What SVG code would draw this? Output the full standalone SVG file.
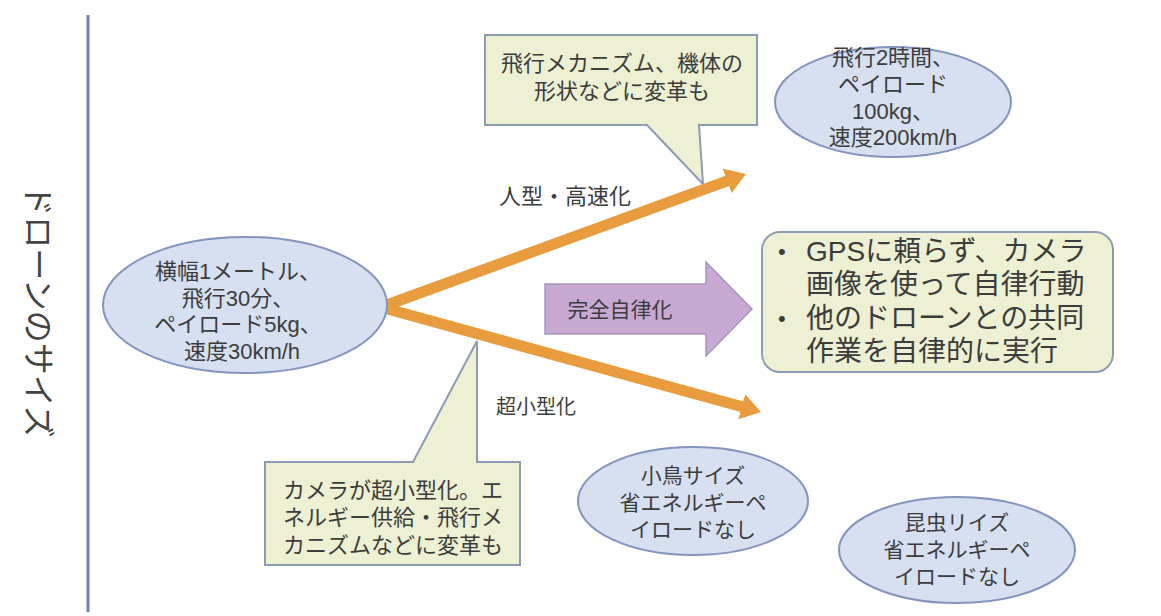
<svg xmlns="http://www.w3.org/2000/svg" width="1161" height="616" viewBox="0 0 1161 616">
<style>
text{font-family:"Liberation Sans","Noto Sans CJK JP","Noto Sans",sans-serif;fill:#3c3c3c;dominant-baseline:central}
.c{text-anchor:middle}
.ell{fill:#D6E0F1;stroke:#8494BE;stroke-width:2}
.call{fill:#EDF0D2;stroke:#8C9BB6;stroke-width:2}
.arr{stroke:#E99C3E;stroke-width:11;fill:none}
.f22{font-size:22px}
.f21{font-size:21px}
.f28{font-size:28px}
</style>
<defs>
<marker id="head" markerUnits="userSpaceOnUse" viewBox="0 0 20 26" refX="6" refY="13" markerWidth="20" markerHeight="26" orient="auto">
<path d="M0,0 L20,13 L0,26 Z" fill="#E99C3E"/>
</marker>
</defs>
<rect width="1161" height="616" fill="#ffffff"/>
<g id="axis">
<line x1="88" y1="15" x2="88" y2="612" stroke="#7282B6" stroke-width="3"/>
<text transform="translate(38,311) rotate(90)" class="c" style="font-size:32px;fill:#444">ドローンのサイズ</text>
</g>
<g id="callout-top">
<path class="call" d="M485,35 H757 V125 H699 L703,184 L647,125 H485 Z"/>
<text class="c f22" x="622" y="63">飛行メカニズム、機体の</text>
<text class="c f22" x="622" y="91">形状などに変革も</text>
</g>
<g id="callout-bottom">
<path class="call" d="M265,462 H413 L477,341 V462 H520 V565 H265 Z"/>
<text class="c f22" x="393" y="490">カメラが超小型化。エ</text>
<text class="c f22" x="393" y="517">ネルギー供給・飛行メ</text>
<text class="c f22" x="393" y="545">カニズムなどに変革も</text>
</g>
<g id="connectors">
<line class="arr" x1="384" y1="306" x2="732.8" y2="178.8" marker-end="url(#head)"/>
<line class="arr" x1="384" y1="308" x2="747.5" y2="408.3" marker-end="url(#head)"/>
</g>
<g id="label-top">
<text class="c f22" x="565" y="196">人型・高速化</text>
</g>
<g id="label-bottom">
<text class="c" x="536" y="407" style="font-size:20px">超小型化</text>
</g>
<g id="node-current">
<ellipse class="ell" cx="245" cy="305" rx="142" ry="68"/>
<text class="c f22" x="238" y="271">横幅1メートル、</text>
<text class="c f22" x="238" y="298">飛行30分、</text>
<text class="c f22" x="238" y="324">ペイロード5kg、</text>
<text class="c f22" x="242" y="351">速度30km/h</text>
</g>
<g id="node-fast">
<ellipse class="ell" cx="893" cy="102" rx="118" ry="55"/>
<text class="c f22" x="893" y="57">飛行2時間、</text>
<text class="c f22" x="893" y="84">ペイロード</text>
<text class="c f22" x="893" y="111">100kg、</text>
<text class="c f22" x="893" y="137">速度200km/h</text>
</g>
<g id="autonomy-arrow">
<path d="M545,284 H706 V262 L752,309 L706,356 V334 H545 Z" fill="#C7A9D3" stroke="#A596C0" stroke-width="1.5"/>
<text class="c f21" x="620" y="309">完全自律化</text>
</g>
<g id="node-autonomy">
<rect x="762" y="232" width="351" height="140" rx="18" class="call"/>
<text style="font-size:22px" x="778" y="251">•</text>
<text class="f28" x="806" y="251">GPSに頼らず、カメラ</text>
<text class="f28" x="806" y="284">画像を使って自律行動</text>
<text style="font-size:22px" x="778" y="318">•</text>
<text class="f28" x="806" y="318">他のドローンとの共同</text>
<text class="f28" x="806" y="351">作業を自律的に実行</text>
</g>
<g id="node-bird">
<ellipse class="ell" cx="693" cy="501" rx="115" ry="54"/>
<text class="c f21" x="693" y="475">小鳥サイズ</text>
<text class="c f21" x="693" y="502">省エネルギーペ</text>
<text class="c f21" x="693" y="529">イロードなし</text>
</g>
<g id="node-insect">
<ellipse class="ell" cx="957" cy="550" rx="118" ry="53"/>
<text class="c f21" x="957" y="522">昆虫リイズ</text>
<text class="c f21" x="957" y="549">省エネルギーペ</text>
<text class="c f21" x="957" y="576">イロードなし</text>
</g>
</svg>
